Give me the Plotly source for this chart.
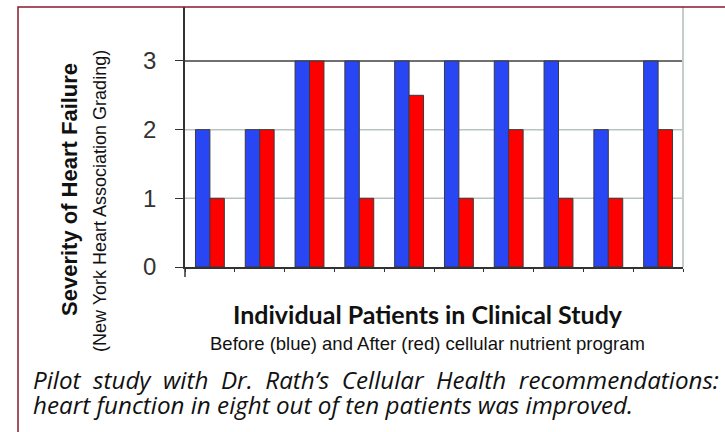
import plotly.graph_objects as go

patients = [f"P{i}" for i in range(1, 11)]
before_blue = [2, 2, 3, 3, 3, 3, 3, 3, 2, 3]
after_red = [1, 2, 3, 1, 2.5, 1, 2, 1, 1, 2]
y_ticks = [0, 1, 2, 3]
y_tick_labels = ["0", "1", "2", "3"]

W, H = 725, 432
L, R, T, B = 185, 683, 7, 267  # plot area in pixels


def px(x):
    return (x - L) / (R - L)


def py(y):
    return (B - y) / (B - T)


fig = go.Figure()
fig.add_trace(go.Bar(x=patients, y=before_blue, name="Before",
                     marker=dict(color="#2946F5", line=dict(color="#3a3a3a", width=1))))
fig.add_trace(go.Bar(x=patients, y=after_red, name="After",
                     marker=dict(color="#FF0000", line=dict(color="#3a3a3a", width=1))))

fig.update_layout(
    width=W, height=H, autosize=False,
    margin=dict(l=L, r=W - R, t=T, b=H - B, pad=0),
    paper_bgcolor="white", plot_bgcolor="white",
    showlegend=False, barmode="group", bargap=0.42, bargroupgap=0,
    font=dict(family="Liberation Sans, Arial, sans-serif", color="#222"),
)
fig.update_xaxes(showticklabels=False, showgrid=False, showline=True,
                 linecolor="#333", linewidth=1.5, ticks="outside", tickson="boundaries",
                 ticklen=3, tickcolor="#333", zeroline=False)
fig.update_yaxes(range=[0, 3.786], tickvals=y_ticks, ticktext=y_tick_labels,
                 showgrid=False,
                 showline=True, linecolor="#333", linewidth=1.5,
                 ticks="outside", ticklen=8, tickcolor="#333",
                 ticklabelstandoff=14, zeroline=False,
                 tickfont=dict(family="Liberation Sans, Arial, sans-serif", size=24, color="#333"))

# gridlines: light at 1 and 2, dark at 3
for v in y_ticks[1:]:
    fig.add_shape(type="line", xref="paper", yref="y", x0=0, x1=1, y0=v, y1=v,
                  line=dict(color="#404040" if v == y_ticks[-1] else "#b8c4c0", width=1.5),
                  layer="between")
fig.add_shape(type="line", xref="paper", yref="paper", x0=1, x1=1, y0=0, y1=1,
              line=dict(color="#c4cccc", width=2))
fig.add_shape(type="line", xref="paper", yref="paper", x0=0, x1=0, y0=py(277), y1=0,
              line=dict(color="#333", width=1.5))
# outer dark red frame
fig.add_shape(type="rect", xref="paper", yref="paper", x0=px(18), x1=px(740),
              y0=py(450), y1=py(7), line=dict(color="#8B1A2E", width=1.5))

fig.add_annotation(text="<b>Severity of Heart Failure</b>", textangle=-90,
                   xref="paper", yref="paper", x=px(70), y=py(190), showarrow=False,
                   xanchor="center", yanchor="middle",
                   font=dict(family="Liberation Sans, Arial, sans-serif", size=22, color="#111"))
fig.add_annotation(text="(New York Heart Association Grading)", textangle=-90,
                   xref="paper", yref="paper", x=px(100), y=py(201), showarrow=False,
                   xanchor="center", yanchor="middle",
                   font=dict(family="Liberation Sans, Arial, sans-serif", size=18, color="#111"))
fig.add_annotation(text="<b>Individual Patients in Clinical Study</b>",
                   xref="paper", yref="paper", x=px(427.5), y=py(314), showarrow=False,
                   xanchor="center", yanchor="middle",
                   font=dict(family="Lato, sans-serif", size=25, color="#111"))
fig.add_annotation(text="Before (blue) and After (red) cellular nutrient program",
                   xref="paper", yref="paper", x=px(427.5), y=py(343), showarrow=False,
                   xanchor="center", yanchor="middle",
                   font=dict(family="Liberation Sans, Arial, sans-serif", size=18.5, color="#111"))
nb = "\u00a0"
line1 = f"Pilot{nb}{nb}study{nb}{nb}with{nb}{nb}Dr.{nb}{nb}Rath’s{nb}{nb}Cellular{nb}{nb}Health{nb}{nb}recommendations:"
fig.add_annotation(text=f"<i>{line1}</i>",
                   xref="paper", yref="paper", x=px(31), y=py(379), showarrow=False,
                   xanchor="left", yanchor="middle",
                   font=dict(family="Open Sans, sans-serif", size=24.2, color="#111"))
fig.add_annotation(text="<i>heart function in eight out of ten patients was improved.</i>",
                   xref="paper", yref="paper", x=px(31), y=py(404), showarrow=False,
                   xanchor="left", yanchor="middle",
                   font=dict(family="Open Sans, sans-serif", size=24.2, color="#111"))

fig.write_html("out.html", config={"displayModeBar": False})

with open("out.html", "r", encoding="utf-8") as f:
    html = f.read()
html = html.replace("<body>", '<body style="margin:0;padding:0;">', 1)
with open("out.html", "w", encoding="utf-8") as f:
    f.write(html)
